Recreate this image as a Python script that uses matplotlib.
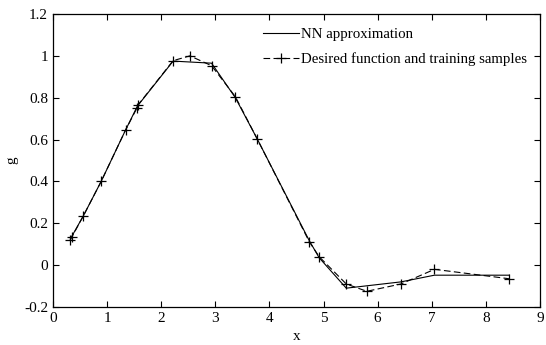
import numpy as np
import matplotlib
matplotlib.use("Agg")
import matplotlib.pyplot as plt

# training samples (desired function)
x_train = [0.32, 0.35, 0.56, 0.89, 1.34, 1.55, 1.57, 2.22, 2.53, 2.93, 3.37, 3.77,
           4.74, 4.92, 5.42, 5.80, 6.43, 7.05, 8.43]
g_train = [0.12, 0.135, 0.235, 0.40, 0.645, 0.75, 0.765, 0.977, 1.0, 0.953, 0.805, 0.605,
           0.11, 0.04, -0.09, -0.125, -0.09, -0.02, -0.065]

# NN approximation
x_nn = [0.32, 0.56, 0.89, 1.34, 1.56, 2.22, 2.93, 3.37, 3.77, 4.74, 4.92, 5.42,
        6.43, 7.05, 8.43]
g_nn = [0.125, 0.235, 0.40, 0.645, 0.76, 0.975, 0.965, 0.80, 0.605, 0.115, 0.035, -0.11,
        -0.08, -0.048, -0.048]

plt.rcParams["font.family"] = ["Liberation Serif", "DejaVu Serif"]
plt.rcParams["font.size"] = 11

fig = plt.figure(figsize=(5.46, 3.45), dpi=100)
ax = fig.add_axes([53 / 546, 38 / 345, 487 / 546, 293 / 345])

ax.plot(x_nn, g_nn, "-", color="black", linewidth=0.8, label="NN approximation")
ax.plot(x_train, g_train, "--", color="black", linewidth=0.8, marker="+",
        markersize=7, markeredgewidth=0.9, dashes=(6, 3),
        label="Desired function and training samples")

ax.set_xlim(0, 9)
ax.set_ylim(-0.2, 1.2)
ax.set_xticks(range(0, 10))
ax.set_yticks([-0.2, 0, 0.2, 0.4, 0.6, 0.8, 1.0, 1.2])
ax.set_yticklabels(["-0.2", "0", "0.2", "0.4", "0.6", "0.8", "1", "1.2"])
ax.tick_params(direction="in", top=True, right=True, length=4, width=0.8, labelsize=11)
for s in ax.spines.values():
    s.set_linewidth(0.9)

ax.set_xlabel("x", fontsize=11, labelpad=4)
ax.set_ylabel("g", fontsize=11, labelpad=4)

ax.legend(loc="upper right", frameon=False, fontsize=10.7, handlelength=2.4,
          handletextpad=0.1, borderaxespad=0.5, labelspacing=0.75)

fig.savefig("out.png", dpi=100)
